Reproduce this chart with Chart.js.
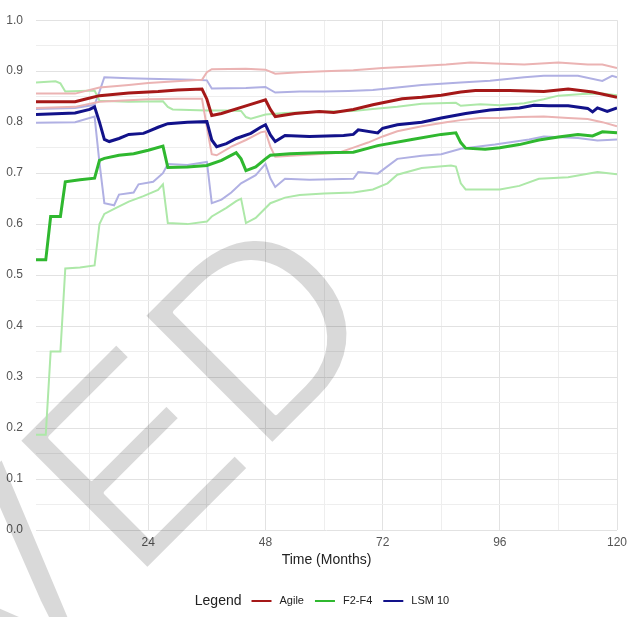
<!DOCTYPE html>
<html>
<head>
<meta charset="utf-8">
<script src="https://cdn.jsdelivr.net/npm/chart.js@4"></script>
<style>
  html, body { margin: 0; padding: 0; background: #fff; }
  #wrap { width: 638px; height: 617px; }
</style>
</head>
<body>
<div id="wrap"><canvas id="chart"></canvas></div>
<script>
// months and values, one pair of arrays per line

// Agile
const agileMeanX = [1, 9, 11, 14, 20, 26, 30, 35, 36, 37, 39, 44, 48, 49, 50, 54, 59, 62, 66, 70, 73, 76, 80, 84, 88, 91, 98, 105, 110, 115, 120];
const agileMeanY = [0.840, 0.840, 0.845, 0.852, 0.857, 0.860, 0.863, 0.865, 0.845, 0.813, 0.817, 0.832, 0.844, 0.825, 0.811, 0.817, 0.821, 0.819, 0.825, 0.834, 0.840, 0.846, 0.849, 0.853, 0.859, 0.862, 0.862, 0.860, 0.865, 0.859, 0.849];
const agileHighX = [1, 9, 14, 20, 24, 33, 35, 36, 37, 44, 48, 50, 55, 60, 66, 72, 78, 85, 90, 95, 101, 108, 114, 117, 120];
const agileHighY = [0.856, 0.856, 0.868, 0.873, 0.877, 0.882, 0.883, 0.898, 0.904, 0.905, 0.903, 0.895, 0.898, 0.900, 0.902, 0.906, 0.909, 0.913, 0.917, 0.915, 0.913, 0.917, 0.913, 0.913, 0.906];
const agileLowX = [1, 9, 14, 20, 24, 30, 35, 36, 37, 38, 41, 44, 47, 48, 49, 50, 55, 60, 63, 66, 69, 72, 75, 80, 85, 88, 92, 96, 100, 105, 110, 114, 117, 120];
const agileLowY = [0.828, 0.830, 0.840, 0.843, 0.845, 0.846, 0.846, 0.790, 0.737, 0.735, 0.752, 0.765, 0.780, 0.782, 0.752, 0.732, 0.735, 0.738, 0.740, 0.750, 0.760, 0.772, 0.782, 0.792, 0.800, 0.804, 0.808, 0.808, 0.810, 0.811, 0.808, 0.806, 0.800, 0.792];

// F2-F4
const f2MeanX = [1, 3, 4, 6, 7, 10, 13, 14, 15, 18, 21, 24, 27, 28, 32, 36, 39, 42, 43, 44, 46, 48, 49, 53, 59, 66, 71, 78, 84, 87, 88, 89, 93, 96, 100, 104, 108, 112, 115, 117, 120];
const f2MeanY = [0.530, 0.530, 0.615, 0.615, 0.683, 0.687, 0.690, 0.725, 0.729, 0.735, 0.738, 0.745, 0.753, 0.711, 0.712, 0.715, 0.725, 0.740, 0.728, 0.705, 0.712, 0.728, 0.735, 0.738, 0.740, 0.741, 0.754, 0.766, 0.776, 0.779, 0.760, 0.749, 0.747, 0.750, 0.756, 0.765, 0.771, 0.776, 0.773, 0.781, 0.779];
const f2HighX = [1, 5, 6, 7, 13, 14, 20, 27, 28, 29, 36, 40, 43, 44, 45, 48, 52, 60, 66, 70, 75, 80, 87, 88, 92, 96, 101, 105, 108, 113, 117, 120];
const f2HighY = [0.878, 0.880, 0.876, 0.860, 0.862, 0.842, 0.840, 0.841, 0.830, 0.825, 0.823, 0.823, 0.822, 0.810, 0.807, 0.815, 0.818, 0.821, 0.822, 0.826, 0.830, 0.836, 0.838, 0.832, 0.835, 0.833, 0.837, 0.845, 0.852, 0.855, 0.856, 0.853];
const f2LowX = [1, 3, 4, 6, 7, 10, 13, 14, 15, 17, 20, 23, 26, 27, 28, 32, 36, 37, 40, 42, 43, 44, 46, 49, 52, 55, 60, 66, 70, 73, 75, 80, 86, 87, 88, 89, 96, 100, 104, 110, 116, 120];
const f2LowY = [0.187, 0.187, 0.350, 0.350, 0.513, 0.515, 0.519, 0.600, 0.620, 0.630, 0.644, 0.655, 0.667, 0.678, 0.602, 0.600, 0.605, 0.615, 0.632, 0.645, 0.650, 0.602, 0.612, 0.641, 0.652, 0.657, 0.660, 0.662, 0.668, 0.680, 0.697, 0.710, 0.715, 0.713, 0.680, 0.668, 0.668, 0.675, 0.689, 0.692, 0.702, 0.698];

// LSM 10
const lsmMeanX = [1, 9, 12, 13, 14, 15, 16, 18, 20, 23, 24, 26, 28, 32, 36, 37, 38, 40, 42, 45, 47, 48, 49, 50, 52, 57, 64, 66, 67, 71, 72, 75, 80, 84, 89, 94, 100, 103, 106, 110, 114, 115, 116, 118, 120];
const lsmMeanY = [0.815, 0.818, 0.825, 0.830, 0.800, 0.766, 0.762, 0.768, 0.776, 0.778, 0.782, 0.790, 0.797, 0.800, 0.801, 0.765, 0.752, 0.758, 0.768, 0.778, 0.790, 0.795, 0.775, 0.762, 0.774, 0.772, 0.774, 0.776, 0.785, 0.779, 0.788, 0.795, 0.800, 0.808, 0.817, 0.824, 0.828, 0.833, 0.832, 0.832, 0.827, 0.820, 0.828, 0.821, 0.828];
const lsmHighX = [1, 9, 13, 14, 15, 20, 24, 33, 36, 37, 44, 48, 50, 55, 60, 65, 70, 75, 80, 88, 94, 101, 105, 112, 117, 119, 120];
const lsmHighY = [0.826, 0.828, 0.834, 0.860, 0.888, 0.886, 0.885, 0.883, 0.882, 0.866, 0.867, 0.869, 0.858, 0.860, 0.860, 0.861, 0.863, 0.868, 0.873, 0.878, 0.881, 0.888, 0.891, 0.891, 0.881, 0.891, 0.888];
const lsmLowX = [1, 9, 13, 14, 15, 17, 18, 21, 22, 25, 27, 28, 32, 36, 37, 39, 41, 43, 46, 48, 49, 50, 52, 57, 66, 67, 71, 75, 80, 84, 88, 95, 102, 105, 112, 116, 120];
const lsmLowY = [0.799, 0.800, 0.811, 0.720, 0.641, 0.637, 0.658, 0.662, 0.678, 0.683, 0.700, 0.718, 0.716, 0.722, 0.641, 0.648, 0.662, 0.680, 0.696, 0.718, 0.690, 0.673, 0.689, 0.687, 0.689, 0.702, 0.699, 0.728, 0.734, 0.737, 0.748, 0.756, 0.766, 0.772, 0.769, 0.764, 0.766];

// tick positions
const xMajor = [24, 48, 72, 96, 120];
const xMinor = [12, 36, 60, 84, 108];
const yMajor = [0.0, 0.1, 0.2, 0.3, 0.4, 0.5, 0.6, 0.7, 0.8, 0.9, 1.0];
const yMinor = [0.05, 0.15, 0.25, 0.35, 0.45, 0.55, 0.65, 0.75, 0.85, 0.95];

const FONT = '"Liberation Sans", Arial, sans-serif';

function pts(xs, ys) {
    return xs.map((x, i) => ({ x: x, y: ys[i] }));
}

function line(label, xs, ys, color, width, inLegend) {
    return {
        label: label,
        data: pts(xs, ys),
        borderColor: color,
        borderWidth: width,
        pointRadius: 0,
        tension: 0,
        fill: false,
        inLegend: inLegend
    };
}

// big grey stamp behind the lines (drawn off screen, thinned, then multiplied in)
const watermark = {
    id: 'watermark',
    beforeDatasetsDraw(chart) {
        const off = document.createElement('canvas');
        off.width = chart.width;
        off.height = chart.height;
        const o = off.getContext('2d');
        o.translate(132, 585);
        o.rotate(-Math.PI / 4);
        o.font = '265px ' + FONT;
        o.textBaseline = 'alphabetic';
        o.textAlign = 'left';
        const vw = o.measureText('V').width;
        o.fillStyle = '#d9d9d9';
        o.fillText('VED', -vw, 0);
        // shave the glyph edges a little, the stamp uses a lighter face
        o.globalCompositeOperation = 'destination-out';
        o.lineWidth = 4;
        o.lineJoin = 'round';
        o.strokeStyle = '#000';
        o.strokeText('VED', -vw, 0);

        const ctx = chart.ctx;
        ctx.save();
        ctx.globalCompositeOperation = 'multiply';
        ctx.drawImage(off, 0, 0, chart.width, chart.height);
        ctx.restore();
    }
};

// ggplot style legend: "Legend" title inline, then line keys
const legendRow = {
    id: 'legendRow',
    afterDraw(chart) {
        const ctx = chart.ctx;
        const items = chart.data.datasets.filter(d => d.inLegend);
        const y = chart.height - 16;
        const lineW = 20, gapTitle = 10, gapLine = 8, gapItem = 11;
        ctx.save();
        ctx.textBaseline = 'middle';
        ctx.textAlign = 'left';
        ctx.font = '14px ' + FONT;
        const titleW = ctx.measureText('Legend').width;
        ctx.font = '11px ' + FONT;
        const widths = items.map(d => ctx.measureText(d.label).width);
        let total = titleW + gapTitle;
        widths.forEach((w, i) => { total += lineW + gapLine + w + (i < widths.length - 1 ? gapItem : 0); });
        let x = chart.width / 2 - total / 2 + 3;
        ctx.fillStyle = '#222';
        ctx.font = '14px ' + FONT;
        ctx.fillText('Legend', x, y);
        x += titleW + gapTitle;
        ctx.font = '11px ' + FONT;
        items.forEach((d, i) => {
            ctx.strokeStyle = d.borderColor;
            ctx.lineWidth = 2;
            ctx.beginPath();
            ctx.moveTo(x, y);
            ctx.lineTo(x + lineW, y);
            ctx.stroke();
            x += lineW + gapLine;
            ctx.fillText(d.label, x, y);
            x += widths[i] + gapItem;
        });
        ctx.restore();
    }
};

const ctx = document.getElementById('chart').getContext('2d');
new Chart(ctx, {
    type: 'line',
    data: {
        datasets: [
            line('Agile', agileMeanX, agileMeanY, '#a51818', 3, true),
            line('F2-F4', f2MeanX, f2MeanY, '#2fb82f', 3, true),
            line('LSM 10', lsmMeanX, lsmMeanY, '#12128a', 3, true),
            line('Agile upper', agileHighX, agileHighY, '#ebb3b3', 2, false),
            line('Agile lower', agileLowX, agileLowY, '#ebb3b3', 2, false),
            line('F2-F4 upper', f2HighX, f2HighY, '#ade8a8', 2, false),
            line('F2-F4 lower', f2LowX, f2LowY, '#ade8a8', 2, false),
            line('LSM 10 upper', lsmHighX, lsmHighY, '#b0b0e3', 2, false),
            line('LSM 10 lower', lsmLowX, lsmLowY, '#b0b0e3', 2, false)
        ]
    },
    options: {
        responsive: true,
        maintainAspectRatio: false,
        animation: false,
        layout: { padding: { top: 10, right: 21, bottom: 42, left: 0 } },
        plugins: {
            legend: { display: false },
            tooltip: { enabled: false }
        },
        scales: {
            x: {
                type: 'linear',
                min: 1,
                max: 120,
                afterBuildTicks: function (scale) {
                    scale.ticks = xMinor.concat(xMajor).sort((a, b) => a - b).map(v => ({ value: v }));
                },
                afterFit: function (scale) { scale.height = 45; },
                border: { display: false },
                grid: {
                    drawTicks: false,
                    color: function (c) { return xMajor.includes(c.tick.value) ? '#e2e2e2' : '#eeeeee'; }
                },
                ticks: {
                    padding: 5,
                    maxRotation: 0,
                    autoSkip: false,
                    color: '#555',
                    font: { family: FONT, size: 12 },
                    callback: function (value) {
                        return xMajor.includes(value) ? String(value) : '';
                    }
                },
                title: {
                    display: true,
                    text: 'Time (Months)',
                    color: '#222',
                    font: { family: FONT, size: 14 },
                    padding: { top: 0, bottom: 6 }
                }
            },
            y: {
                min: 0,
                max: 1,
                afterBuildTicks: function (scale) {
                    scale.ticks = yMinor.concat(yMajor).sort((a, b) => a - b).map(v => ({ value: v }));
                },
                afterFit: function (scale) { scale.width = 36; },
                border: { display: false },
                grid: {
                    drawTicks: false,
                    color: function (c) {
                        return Math.round(c.tick.value * 100) % 10 === 0 ? '#e2e2e2' : '#eeeeee';
                    }
                },
                ticks: {
                    padding: 13,
                    autoSkip: false,
                    color: '#555',
                    font: { family: FONT, size: 12 },
                    callback: function (value) {
                        return Math.round(value * 100) % 10 === 0 ? value.toFixed(1) : '';
                    }
                }
            }
        }
    },
    plugins: [watermark, legendRow]
});
</script>
</body>
</html>
